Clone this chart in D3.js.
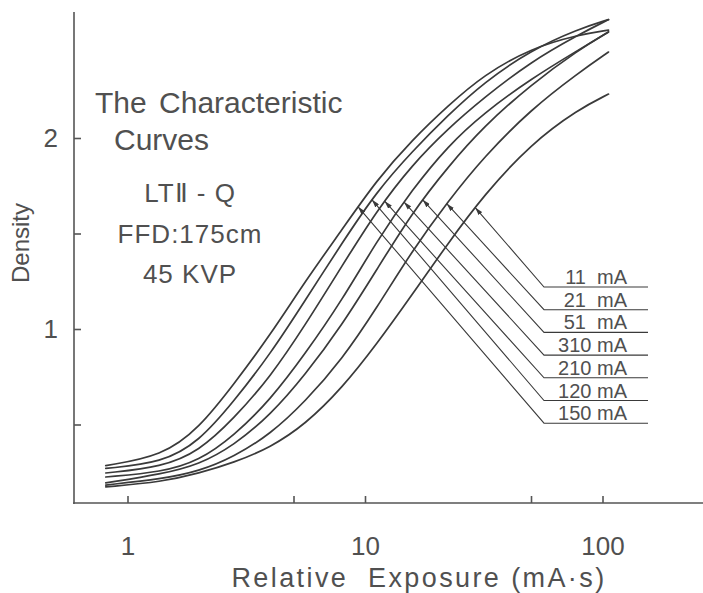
<!DOCTYPE html>
<html>
<head>
<meta charset="utf-8">
<script src="https://cdn.jsdelivr.net/npm/d3@7"></script>
<style>
  body { margin: 0; background: #ffffff; }
  svg { display: block; }
</style>
</head>
<body>
<script>
// ---------- DATA ----------
const exposure = [0.81, 1.4, 2, 2.8, 4, 5.6, 8, 11.2, 15.8, 22.4, 31.6, 50, 79, 106];

const seriesNames = ["150 mA", "120 mA", "210 mA", "310 mA", "51 mA", "21 mA", "11 mA"];
const density150 = [0.285, 0.335, 0.48, 0.71, 0.97, 1.25, 1.52, 1.78, 1.99, 2.17, 2.33, 2.47, 2.54, 2.565];
const density120 = [0.270, 0.300, 0.41, 0.62, 0.87, 1.15, 1.45, 1.72, 1.93, 2.12, 2.29, 2.46, 2.57, 2.62];
const density210 = [0.246, 0.278, 0.36, 0.53, 0.75, 1.02, 1.33, 1.62, 1.86, 2.05, 2.21, 2.40, 2.54, 2.62];
const density310 = [0.225, 0.251, 0.31, 0.44, 0.63, 0.87, 1.15, 1.46, 1.73, 1.96, 2.13, 2.31, 2.46, 2.555];
const density51  = [0.194, 0.241, 0.29, 0.39, 0.55, 0.76, 1.02, 1.31, 1.61, 1.85, 2.06, 2.28, 2.46, 2.555];
const density21  = [0.183, 0.215, 0.255, 0.33, 0.45, 0.62, 0.84, 1.11, 1.41, 1.67, 1.90, 2.15, 2.34, 2.45];
const density11  = [0.173, 0.200, 0.245, 0.30, 0.38, 0.50, 0.69, 0.92, 1.18, 1.45, 1.70, 1.97, 2.15, 2.23];

// legend labels (top to bottom) and the exposure at which each arrow touches its curve
const labelOrder = ["11 mA", "21 mA", "51 mA", "310 mA", "210 mA", "120 mA", "150 mA"];
const labelTipExposure = [29.1, 22.1, 17.5, 14.6, 12.1, 10.7, 9.35];

const xTickValues = [1, 5, 10, 50, 100];
const xTickLabels = ["1", "", "10", "", "100"];
const yTickValues = [0.5, 1, 1.5, 2];
const yTickLabels = ["", "1", "", "2"];

const titleLines = ["The Characteristic", "Curves"];
const infoLines = ["LTⅡ - Q", "FFD:175cm", "45 KVP"];
const xTitle = "Relative  Exposure (mA·s)";
const yTitle = "Density";

// ---------- LAYOUT ----------
const W = 703, H = 593;
const axisX = 74, axisY = 503, axisTop = 12, axisRight = 703;
const ink = "#3a3a3a", textInk = "#505050";
const font = "'Liberation Sans', Arial, sans-serif";

const svg = d3.select("body").append("svg").attr("width", W).attr("height", H);

const x = d3.scaleLog().domain([1, 100]).range([127.5, 602.5]);
const y = d3.scaleLinear().domain([1, 2]).range([329, 138]);

// frame
svg.append("line").attr("x1", axisX).attr("x2", axisX).attr("y1", axisTop).attr("y2", axisY + 1)
  .attr("stroke", "#555").attr("stroke-width", 1.6);
svg.append("line").attr("x1", axisX - 1).attr("x2", axisRight).attr("y1", axisY).attr("y2", axisY)
  .attr("stroke", "#555").attr("stroke-width", 1.6);

// axes
const gx = svg.append("g").attr("transform", `translate(0,${axisY})`)
  .call(d3.axisBottom(x).tickValues(xTickValues)
    .tickFormat((d, i) => xTickLabels[i]).tickSizeInner(-7).tickSizeOuter(0).tickPadding(34));
gx.select(".domain").remove();
gx.selectAll("line").attr("stroke", "#555").attr("stroke-width", 1.6);
gx.selectAll("text").attr("font-family", font).attr("font-size", 26).attr("fill", textInk);

const gy = svg.append("g").attr("transform", `translate(${axisX},0)`)
  .call(d3.axisLeft(y).tickValues(yTickValues)
    .tickFormat((d, i) => yTickLabels[i]).tickSizeInner(-7).tickSizeOuter(0).tickPadding(16));
gy.select(".domain").remove();
gy.selectAll("line").attr("stroke", "#555").attr("stroke-width", 1.6);
gy.selectAll("text").attr("font-family", font).attr("font-size", 26).attr("fill", textInk);

// axis titles
svg.append("text").attr("x", 419).attr("y", 587).attr("text-anchor", "middle")
  .attr("font-family", font).attr("font-size", 27).attr("letter-spacing", 2.4)
  .attr("fill", textInk).style("white-space", "pre").text(xTitle);
svg.append("text").attr("transform", "translate(29,243) rotate(-90)").attr("text-anchor", "middle")
  .attr("font-family", font).attr("font-size", 24).attr("fill", textInk).text(yTitle);

// title block
svg.append("text").attr("x", 95).attr("y", 113).attr("font-family", font).attr("font-size", 30)
  .attr("word-spacing", 4).attr("fill", textInk).text(titleLines[0]);
svg.append("text").attr("x", 114).attr("y", 150).attr("font-family", font).attr("font-size", 30)
  .attr("fill", textInk).text(titleLines[1]);
const infoY = [202, 243, 283];
infoLines.forEach((t, i) => {
  svg.append("text").attr("x", 190).attr("y", infoY[i]).attr("text-anchor", "middle")
    .attr("font-family", font).attr("font-size", 26).attr("letter-spacing", 1)
    .attr("fill", textInk).text(t);
});

// curves
const allSeries = [density150, density120, density210, density310, density51, density21, density11];
const line = d3.line().x(d => x(d[0])).y(d => y(d[1])).curve(d3.curveBasis);
const curvePaths = {};
allSeries.forEach((vals, i) => {
  const pts = exposure.map((e, j) => [e, vals[j]]);
  const p = svg.append("path").attr("d", line(pts)).attr("fill", "none")
    .attr("stroke", ink).attr("stroke-width", 1.7).attr("stroke-linecap", "round");
  curvePaths[seriesNames[i]] = p.node();
});

// arrow marker
svg.append("defs").append("marker").attr("id", "arr")
  .attr("viewBox", "0 0 10 6").attr("refX", 10).attr("refY", 3)
  .attr("markerWidth", 8).attr("markerHeight", 5).attr("markerUnits", "userSpaceOnUse")
  .attr("orient", "auto-start-reverse")
  .append("path").attr("d", "M0,0 L10,3 L0,6 Z").attr("fill", ink);

function yAtX(node, xt) {
  let lo = 0, hi = node.getTotalLength();
  for (let k = 0; k < 40; k++) {
    const mid = (lo + hi) / 2;
    if (node.getPointAtLength(mid).x < xt) lo = mid; else hi = mid;
  }
  return node.getPointAtLength((lo + hi) / 2).y;
}

// leaders and labels
const ul0 = 287, ulStep = 22.7, ulLeft = 544, ulRight = 648, textRight = 627;
labelOrder.forEach((name, i) => {
  const tx = x(labelTipExposure[i]);
  const ty = yAtX(curvePaths[name], tx);
  const uy = ul0 + i * ulStep;
  svg.append("path").attr("d", d3.line()([[tx, ty], [ulLeft, uy], [ulRight, uy]]))
    .attr("fill", "none").attr("stroke", ink).attr("stroke-width", 1.1)
    .attr("marker-start", "url(#arr)");
  svg.append("text").attr("x", textRight).attr("y", uy - 3).attr("text-anchor", "end")
    .attr("font-family", font).attr("font-size", 20).attr("fill", textInk)
    .style("white-space", "pre").text(name.replace(" ", name.length < 6 ? "  " : " "));
});
</script>
</body>
</html>
